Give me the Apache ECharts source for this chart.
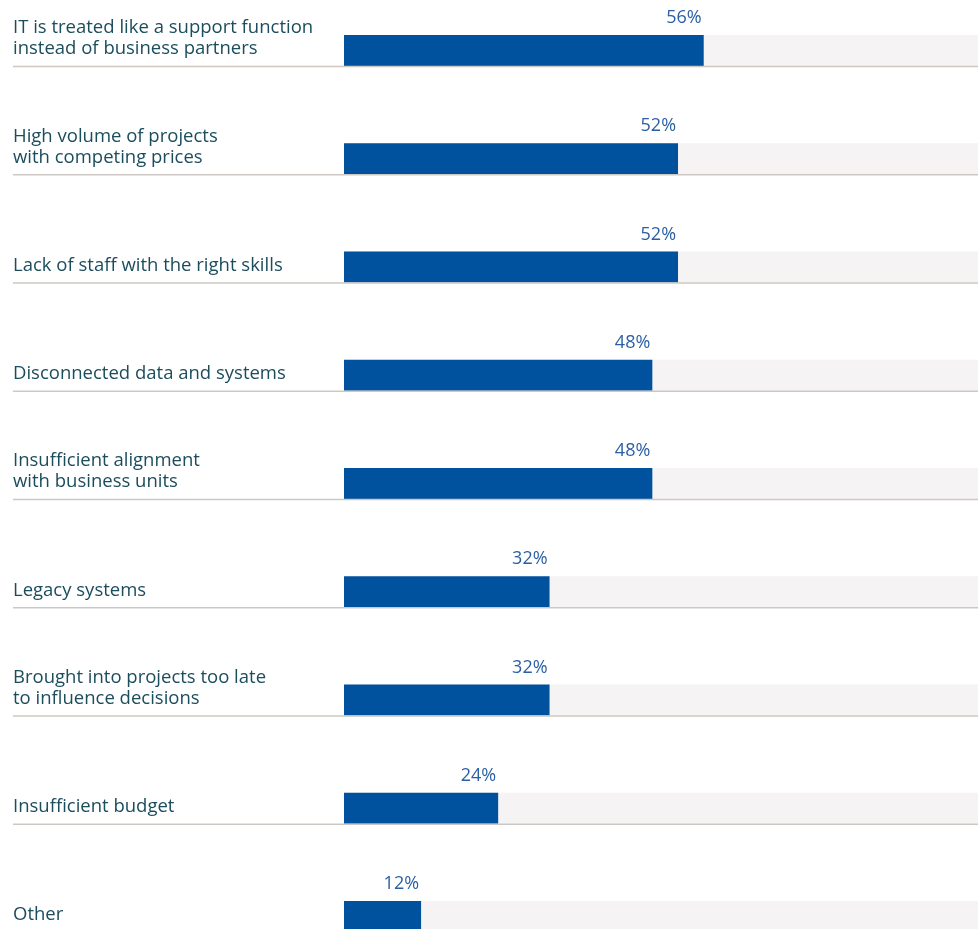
<!DOCTYPE html>
<html><head><meta charset="utf-8">
<script src="https://cdn.jsdelivr.net/npm/echarts@6/dist/echarts.min.js"></script>
<style>html,body{margin:0;padding:0;background:#fff}#c{width:978px;height:929px}</style>
</head><body><div id="c"></div>
<script>
const categories = [
  "IT is treated like a support function\ninstead of business partners",
  "High volume of projects\nwith competing prices",
  "Lack of staff with the right skills",
  "Disconnected data and systems",
  "Insufficient alignment\nwith business units",
  "Legacy systems",
  "Brought into projects too late\nto influence decisions",
  "Insufficient budget",
  "Other"
];
const values = [56, 52, 52, 48, 48, 32, 32, 24, 12];

const chart = echarts.init(document.getElementById('c'), null, {renderer: 'canvas'});
const FONT = '"Open Sans", "Noto Sans", sans-serif';
chart.setOption({
  animation: false,
  grid: {left: 344, width: 634, top: 50.5, height: 866, containLabel: false},
  xAxis: {type: 'value', min: 0, max: 98.7, show: false},
  yAxis: {type: 'category', data: categories, inverse: true, show: false, boundaryGap: false},
  series: [
    {
      type: 'bar',
      data: values,
      barWidth: 31,
      itemStyle: {color: '#00519e'},
      showBackground: true,
      backgroundStyle: {color: '#f5f3f3'},
      label: {
        show: true,
        position: ['100%', -17],
        align: 'right',
        verticalAlign: 'middle',
        offset: [-2, 0],
        formatter: p => p.value + '%',
        color: '#2b5fa5',
        fontSize: 18,
        fontFamily: FONT
      },
      z: 2
    },
    {
      type: 'custom',
      data: categories.map((c, i) => [0, i]),
      encode: {x: 0, y: 1},
      z: 3,
      renderItem: function (params, api) {
        const i = api.value(1);
        const cy = api.coord([0, i])[1];
        const bottom = cy + 15.5;
        return {
          type: 'group',
          children: [
            {type: 'line', shape: {x1: 13, y1: bottom + 0.5, x2: 978, y2: bottom + 0.5},
             style: {stroke: '#cdc8c3', lineWidth: 1.5}},
            {type: 'text', x: 13, y: cy + 9,
             style: {text: categories[i], fill: '#1b4d5d', font: '18.5px ' + FONT,
                     align: 'left', verticalAlign: 'bottom', lineHeight: 21}}
          ]
        };
      }
    }
  ]
});
</script></body></html>
